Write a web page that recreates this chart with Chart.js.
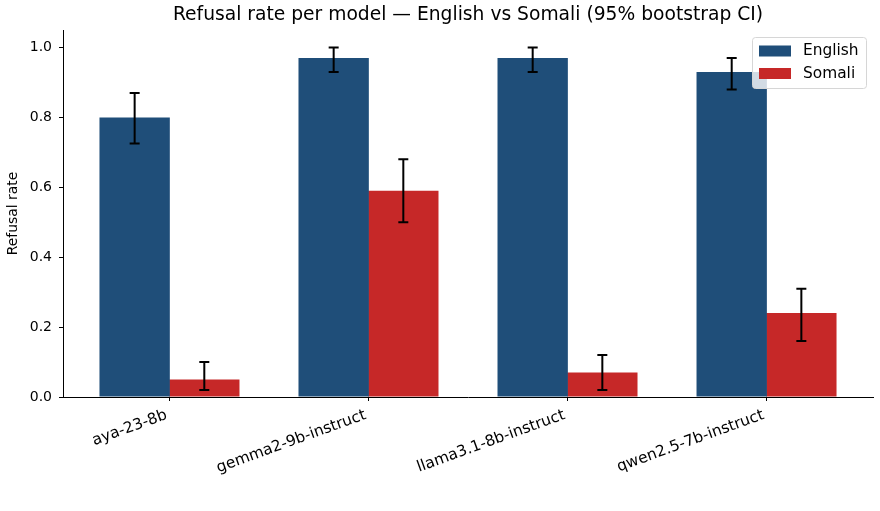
<!DOCTYPE html>
<html><head><meta charset="utf-8">
<script src="https://cdn.jsdelivr.net/npm/chart.js@4.4.1/dist/chart.umd.min.js"></script>
<style>html,body{margin:0;padding:0;background:#fff;overflow:hidden}#wrap{width:880px;height:511px;position:relative}</style>
</head><body><div id="wrap"><canvas id="c"></canvas></div>
<script>
const models = ['aya-23-8b', 'gemma2-9b-instruct', 'llama3.1-8b-instruct', 'qwen2.5-7b-instruct'];
const englishRate = [0.80, 0.97, 0.97, 0.93];
const englishLow  = [0.725, 0.93, 0.93, 0.88];
const englishHigh = [0.87, 1.00, 1.00, 0.97];
const somaliRate  = [0.05, 0.59, 0.07, 0.24];
const somaliLow   = [0.02, 0.50, 0.02, 0.16];
const somaliHigh  = [0.10, 0.68, 0.12, 0.31];
const yTickValues = [0.0, 0.2, 0.4, 0.6, 0.8, 1.0];
const seriesNames = ['English', 'Somali'];
const seriesColors = ['#1f4e79', '#c62828'];
const titleText = 'Refusal rate per model \u2014 English vs Somali (95% bootstrap CI)';

const FONT = 'DejaVu Sans';
Chart.defaults.font.family = FONT;
Chart.defaults.color = '#000';

const lows = [englishLow, somaliLow];
const highs = [englishHigh, somaliHigh];

const errorBars = {
  id: 'errorBars',
  afterDatasetsDraw(chart) {
    const ctx = chart.ctx, ys = chart.scales.y;
    ctx.save();
    ctx.strokeStyle = '#000';
    ctx.lineWidth = 2;
    chart.data.datasets.forEach((ds, d) => {
      const meta = chart.getDatasetMeta(d);
      meta.data.forEach((el, i) => {
        const x = el.x;
        const y1 = ys.getPixelForValue(lows[d][i]);
        const y2 = ys.getPixelForValue(highs[d][i]);
        ctx.beginPath();
        ctx.moveTo(x, y1); ctx.lineTo(x, y2);
        ctx.moveTo(x - 5, y1); ctx.lineTo(x + 5, y1);
        ctx.moveTo(x - 5, y2); ctx.lineTo(x + 5, y2);
        ctx.stroke();
      });
    });
    ctx.restore();
  }
};

const boxLegend = {
  id: 'boxLegend',
  afterDraw(chart) {
    const ctx = chart.ctx;
    const x0 = 752, y0 = 37, w = 114, h = 51, r = 3;
    ctx.save();
    ctx.beginPath();
    ctx.roundRect(x0 + 0.5, y0 + 0.5, w, h, r);
    ctx.fillStyle = 'rgba(255,255,255,0.8)';
    ctx.fill();
    ctx.strokeStyle = '#d6d6d6';
    ctx.lineWidth = 1;
    ctx.stroke();
    ctx.font = '15.4px "' + FONT + '"';
    ctx.textBaseline = 'middle';
    ctx.textAlign = 'left';
    chart.data.datasets.forEach((ds, d) => {
      const cy = 51 + d * 22.5;
      ctx.fillStyle = ds.backgroundColor;
      ctx.fillRect(759, cy - 5.5, 32, 11);
      ctx.fillStyle = '#000';
      ctx.fillText(ds.label, 803, cy);
    });
    ctx.restore();
  }
};

const mkData = (vals) => vals.map((v, i) => ({ x: i, y: v }));

new Chart(document.getElementById('c'), {
  type: 'bar',
  data: {
    datasets: [
      { label: seriesNames[0], data: mkData(englishRate), backgroundColor: seriesColors[0], categoryPercentage: 0.7, barPercentage: 1.01, borderWidth: 0 },
      { label: seriesNames[1], data: mkData(somaliRate), backgroundColor: seriesColors[1], categoryPercentage: 0.7, barPercentage: 1.01, borderWidth: 0 }
    ]
  },
  options: {
    responsive: true,
    maintainAspectRatio: false,
    animation: false,
    layout: { padding: { left: 0, right: 7, top: 0, bottom: 0 } },
    plugins: {
      legend: { display: false },
      tooltip: { enabled: false },
      title: {
        display: true, text: titleText, color: '#000', fullSize: false,
        font: { size: 18.7, weight: 'normal', family: FONT },
        padding: { top: 4, bottom: 3.6 }
      }
    },
    scales: {
      x: {
        type: 'linear', min: -0.535, max: 3.535, offset: false,
        afterBuildTicks: (s) => { s.ticks = models.map((m, i) => ({ value: i })); },
        afterFit: (s) => { s.height = 114; },
        ticks: {
          callback: (v) => models[v],
          minRotation: 20, maxRotation: 20, autoSkip: false,
          font: { size: 15.4 }, color: '#000', padding: 5, labelOffset: -3
        },
        grid: { offset: false, drawOnChartArea: false, drawTicks: true, tickLength: 4, tickColor: '#000', tickWidth: 1 },
        border: { color: '#000', width: 1 }
      },
      y: {
        min: 0, max: 1.05,
        afterBuildTicks: (s) => { s.ticks = yTickValues.map(v => ({ value: v })); },
        afterFit: (s) => { s.width = 63; },
        ticks: { callback: (v) => v.toFixed(1), font: { size: 14 }, color: '#000', padding: 7 },
        grid: { drawOnChartArea: false, drawTicks: true, tickLength: 4, tickColor: '#000', tickWidth: 1 },
        border: { color: '#000', width: 1 },
        title: { display: true, text: 'Refusal rate', font: { size: 13.9 }, color: '#000', padding: { top: 5, bottom: 0 } }
      }
    }
  },
  plugins: [errorBars, boxLegend]
});
</script></body></html>
